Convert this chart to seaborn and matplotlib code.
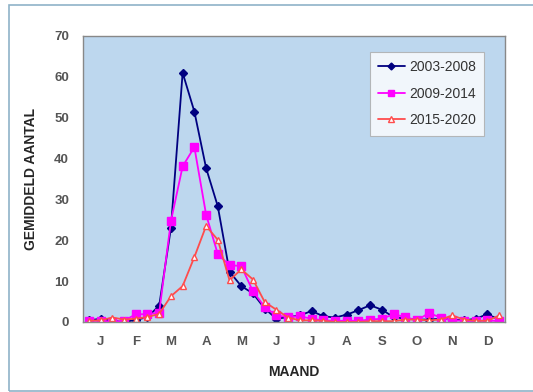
"""
Gemiddeld aantal per week (3 punten per maand) voor drie periodes.
"""

import numpy as np
import pandas as pd
import matplotlib
matplotlib.use("Agg")
import matplotlib.pyplot as plt
import seaborn as sns
from matplotlib.patches import Rectangle

# -----------------------------
# Data
# -----------------------------
months = ["J", "F", "M", "A", "M", "J", "J", "A", "S", "O", "N", "D"]

s_2003_2008 = [0.4, 0.8, 0.3, 0.0, 0.5, 1.2, 4.0, 23.0, 61.0, 51.5, 37.7, 28.3,
               12.3, 8.8, 7.0, 3.3, 0.8, 1.2, 1.6, 2.7, 1.4, 1.1, 1.8, 2.9,
               4.1, 3.0, 1.2, 0.8, 0.6, 0.6, 0.8, 0.6, 0.4, 0.8, 1.9, 0.6]
s_2009_2014 = [0.3, 0.3, 0.0, 0.3, 1.9, 1.9, 2.3, 24.7, 38.1, 42.8, 26.3, 16.6,
               13.9, 13.7, 7.5, 3.7, 1.6, 1.2, 1.4, 0.8, 0.4, 0.3, 0.3, 0.3,
               0.6, 0.8, 1.9, 1.2, 0.4, 2.2, 1.1, 0.4, 0.3, 0.2, 0.4, 0.2]
s_2015_2020 = [0.3, 0.4, 1.1, 0.6, 0.8, 1.2, 2.0, 6.3, 8.8, 15.9, 23.5, 20.1,
               10.2, 12.9, 10.4, 4.9, 3.0, 1.1, 0.4, 0.4, 0.3, 0.0, 0.0, 0.0,
               0.2, 0.2, 0.2, 0.6, 0.6, 0.4, 0.6, 1.6, 0.6, 0.3, 0.3, 1.6]

series = {"2003-2008": s_2003_2008, "2009-2014": s_2009_2014, "2015-2020": s_2015_2020}
df = pd.DataFrame(series)
df["week"] = np.arange(len(df))
long = df.melt(id_vars="week", var_name="periode", value_name="aantal")

# -----------------------------
# Plot
# -----------------------------
sns.set_style("white")
plt.rcParams["font.family"] = ["Liberation Sans", "DejaVu Sans"]

fig = plt.figure(figsize=(5.33, 3.92), dpi=100)
ax = fig.add_axes([83 / 533, 1 - 322 / 392, 422 / 533, 286 / 392])
ax.set_facecolor("#bdd7ee")

palette = {"2003-2008": "#000080", "2009-2014": "#ff00ff", "2015-2020": "#ff4c4c"}
markers = {"2003-2008": "D", "2009-2014": "s", "2015-2020": "^"}
sizes = {"2003-2008": 4.5, "2009-2014": 6, "2015-2020": 5}

sns.lineplot(data=long, x="week", y="aantal", hue="periode", style="periode",
             palette=palette, markers=markers, dashes=False, linewidth=1.3,
             markersize=5, ax=ax, legend=False)

# restyle markers per series
for line, name in zip(ax.get_lines(), series.keys()):
    c = palette[name]
    line.set_markerfacecolor("white" if name == "2015-2020" else c)
    line.set_markeredgecolor(c)
    line.set_markersize(sizes[name])
    line.set_markeredgewidth(1.0)

ax.set_xlim(-0.5, len(df) - 0.5)
ax.set_ylim(0, 70)
ax.set_yticks(range(0, 71, 10))
ax.set_xticks(np.arange(1, len(df), 3))
ax.set_xticklabels(months)
ax.set_xticks(np.arange(-0.5, len(df), 3), minor=True)

ax.tick_params(axis="x", which="major", length=0, pad=10, labelsize=9.5, labelcolor="#555555")
ax.tick_params(axis="x", which="minor", length=4, color="#888888", direction="out")
ax.tick_params(axis="y", length=4, color="#888888", direction="out", pad=6,
               labelsize=9.5, labelcolor="#555555")
for lbl in ax.get_xticklabels() + ax.get_yticklabels():
    lbl.set_fontweight("bold")

for sp in ax.spines.values():
    sp.set_color("#888888")
    sp.set_linewidth(1.0)

ax.set_xlabel("MAAND", fontsize=10, fontweight="bold", labelpad=12)
ax.set_ylabel("GEMIDDELD AANTAL", fontsize=10, fontweight="bold", labelpad=12)

# legend
handles = []
for name in series.keys():
    c = palette[name]
    face = "white" if name == "2015-2020" else c
    h, = ax.plot([], [], color=c, marker=markers[name], markerfacecolor=face,
                 markeredgecolor=c, markersize=sizes[name] - 1, linewidth=1.3)
    handles.append(h)
leg = ax.legend(handles, list(series.keys()), loc="upper right",
                bbox_to_anchor=((484 - 83) / 422, (322 - 52) / 286),
                borderaxespad=0, frameon=True, fancybox=False,
                fontsize=10, handlelength=1.9, labelspacing=0.9,
                borderpad=0.6, handletextpad=0.3)
leg.get_frame().set_edgecolor("#aaaaaa")
leg.get_frame().set_linewidth(0.8)
for t in leg.get_texts():
    t.set_color("#333333")

# outer chart border
fig.patches.append(Rectangle((9 / 533, 1 / 392), 530 / 533, 386 / 392,
                             transform=fig.transFigure, fill=False,
                             edgecolor="#8fb3c8", linewidth=1.2))

plt.savefig("out.png", dpi=100)
